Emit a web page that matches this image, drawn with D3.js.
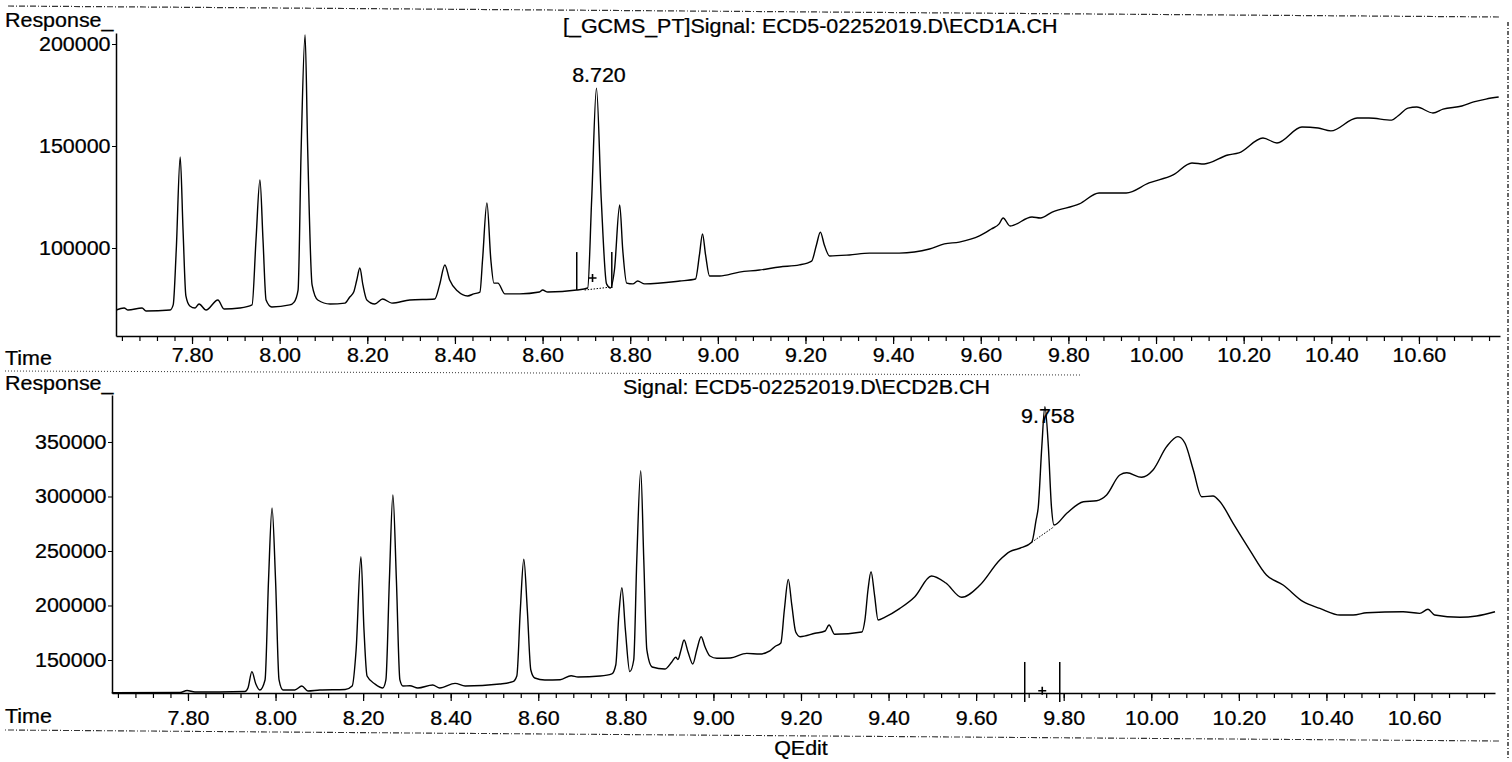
<!DOCTYPE html>
<html><head><meta charset="utf-8">
<script src="https://cdn.jsdelivr.net/npm/d3@7"></script>
<style>
html,body{margin:0;padding:0;background:#fff;}
svg text{font-family:"Liberation Sans",Arial,sans-serif;fill:#000;stroke:#000;stroke-width:0.25px;}
</style></head><body>
<svg id="chart" width="1512" height="762"></svg>
<script>
// ---------- DATA ----------
const xTickLabels = ["7.80","8.00","8.20","8.40","8.60","8.80","9.00","9.20","9.40","9.60","9.80","10.00","10.20","10.40","10.60"];
const topYTicks = [100000, 150000, 200000];
const bottomYTicks = [150000, 200000, 250000, 300000, 350000];
const timeDomain = [7.6265, 10.785];
const topDomain = [56860, 205400];
const bottomDomain = [119730, 393100];

const topTitle = "[_GCMS_PT]Signal: ECD5-02252019.D\\ECD1A.CH";
const bottomTitle = "Signal: ECD5-02252019.D\\ECD2B.CH";

// ECD1A signal (time, response)
const ecd1aTime = [7.627,7.645,7.654,7.686,7.695,7.750,7.757,7.764,7.773,7.7795,7.786,7.795,7.807,7.816,7.832,7.859,7.873,7.909,7.937,7.946,7.955,7.962,7.969,7.982,8.023,8.033,8.042,8.049,8.058,8.064,8.074,8.087,8.115,8.149,8.160,8.169,8.176,8.183,8.190,8.199,8.217,8.235,8.256,8.297,8.354,8.365,8.377,8.388,8.406,8.429,8.443,8.457,8.463,8.473,8.482,8.489,8.498,8.514,8.548,8.593,8.600,8.612,8.678,8.703,8.712,8.723,8.734,8.746,8.755,8.764,8.776,8.783,8.792,8.806,8.817,8.833,8.913,8.949,8.958,8.965,8.972,8.981,9.004,9.049,9.095,9.141,9.186,9.214,9.225,9.234,9.243,9.255,9.300,9.346,9.414,9.483,9.517,9.551,9.597,9.624,9.642,9.651,9.667,9.717,9.736,9.763,9.825,9.870,9.932,9.984,10.039,10.082,10.110,10.164,10.189,10.244,10.276,10.333,10.370,10.399,10.459,10.486,10.538,10.552,10.575,10.595,10.632,10.655,10.698,10.725,10.753,10.782];
const ecd1aResponse = [69600,70600,69600,70600,69100,69600,72100,99000,144600,108800,76500,71600,70600,72550,69600,74500,70100,70600,72100,103900,133300,103900,74500,71100,72100,73500,79400,148000,204400,148000,81900,74500,72550,73000,76000,78400,84300,90200,81900,74500,72550,75000,73000,74500,75000,81900,91700,84300,78900,76500,77500,78400,94100,122100,94100,82800,82800,77500,77500,78400,79400,78400,79400,80400,123500,178400,123500,82400,80400,89200,121100,99000,82800,82400,83800,82400,83800,84800,96600,106900,96600,86300,86300,88200,89200,90700,91700,93600,101500,107800,101500,96100,96600,97500,97500,99500,102000,102900,105900,109300,111800,114700,110800,115200,114700,117600,121600,127000,127000,131900,135800,141700,141200,145600,146600,153900,151500,159300,158800,157400,163700,163700,162700,164700,168600,169100,166200,168100,169600,171600,173000,174000];

// ECD2B signal (time, response)
const ecd2bTime = [7.626,7.782,7.798,7.816,7.930,7.937,7.946,7.955,7.964,7.976,7.984,7.992,8.000,8.008,8.017,8.044,8.060,8.074,8.101,8.159,8.175,8.184,8.195,8.202,8.209,8.227,8.245,8.252,8.260,8.268,8.276,8.284,8.291,8.307,8.325,8.359,8.375,8.410,8.433,8.512,8.542,8.551,8.559,8.567,8.575,8.583,8.592,8.615,8.650,8.675,8.691,8.741,8.768,8.777,8.784,8.791,8.799,8.809,8.818,8.825,8.834,8.841,8.848,8.860,8.889,8.905,8.914,8.919,8.926,8.933,8.942,8.953,8.962,8.972,8.981,8.992,9.008,9.038,9.076,9.106,9.129,9.140,9.154,9.162,9.171,9.179,9.188,9.198,9.232,9.255,9.264,9.277,9.339,9.346,9.353,9.360,9.368,9.376,9.392,9.426,9.460,9.498,9.531,9.567,9.609,9.654,9.677,9.700,9.727,9.737,9.742,9.750,9.757,9.765,9.772,9.778,9.807,9.845,9.875,9.898,9.928,9.944,9.978,10.004,10.035,10.061,10.077,10.096,10.115,10.141,10.157,10.187,10.225,10.263,10.301,10.347,10.385,10.431,10.461,10.492,10.575,10.613,10.632,10.647,10.705,10.743,10.785];
const ecd2bResponse = [120000,120200,122000,120600,121100,124300,139300,128000,122500,131700,223400,289400,223400,131700,122500,122500,126100,121600,122500,122900,126100,159200,244800,177500,135300,128000,124300,131700,223400,301400,223400,131700,126100,126400,124300,127100,124300,128600,126100,128000,130100,135300,195900,242400,195900,140800,133500,131700,131900,135600,134400,135300,137200,145400,191300,216300,177500,139300,150000,241700,323700,241700,159200,143600,141700,148200,152500,150500,159200,168300,157300,146300,159200,171400,161900,153700,151600,151800,156100,155500,158300,162200,165600,195900,224000,200500,175700,171400,174500,176600,182100,173600,175700,186700,214200,231000,209600,186700,189400,197400,208100,227100,220600,207500,218800,241700,249400,252500,258000,278500,290600,345700,382400,345700,290600,273800,284600,295200,296100,301400,319700,321800,317600,324300,345700,354900,348800,324300,299800,300500,295200,275400,250900,228000,218800,203500,197400,191300,191300,193400,194300,192800,196500,191300,189200,190400,194300];

// annotations
const topPeakLabel = {time: 8.723, response: 178400, text: "8.720"};
const bottomPeakLabel = {time: 9.757, response: 382400, text: "9.758"};
const topMarkerTimes = [8.678, 8.758];
const topMarkerResp = [98000, 79400, 80400];      // top, left foot, right foot
const topPlus = {time: 8.714, response: 85300};
const topBaseline = {times: [8.696, 8.758], resp: [79400, 80900]};
const bottomMarkerTimes = [9.711, 9.791];
const bottomMarkerResp = [148200, 111500];
const bottomPlus = {time: 9.751, response: 121800};
const bottomBaseline = {times: [9.727, 9.778], resp: [258000, 272300]};

// ---------- DRAW ----------
const svg = d3.select("#chart");
const FS = 19.5, SX = 1.1;
function txt(x, y, s, anchor) {
  svg.append("text").attr("transform", `translate(${x},${y}) scale(${SX},1)`)
    .attr("text-anchor", anchor || "start").style("font-size", FS + "px").text(s);
}

// scanned frame (dashed)
const frame = svg.append("g").attr("fill", "none").attr("stroke", "#333").attr("stroke-width", 1.2);
frame.append("line").attr("x1", 8).attr("y1", 6).attr("x2", 1500).attr("y2", 17).attr("stroke-dasharray", "6,2,1,2");
frame.append("line").attr("x1", 5).attr("y1", 371).attr("x2", 1080).attr("y2", 375).attr("stroke-dasharray", "1,2").attr("stroke-width", 1);
frame.append("line").attr("x1", 5).attr("y1", 730).attr("x2", 1500).attr("y2", 741).attr("stroke-dasharray", "1,2,6,2").attr("stroke-width", 1.1);
frame.append("line").attr("x1", 1508).attr("y1", 22).attr("x2", 1508).attr("y2", 760).attr("stroke-dasharray", "4,2,1,2").attr("stroke-width", 1.5);

function panel(p) {
  const x = d3.scaleLinear().domain(timeDomain).range([p.left, p.right]);
  const y = d3.scaleLinear().domain(p.yDomain).range([p.bottom, p.top]);
  const g = svg.append("g");

  const minor = d3.range(191, 270).map(i => +(i * 0.04).toFixed(2));
  g.append("g").attr("transform", `translate(0,${p.bottom})`)
    .call(d3.axisBottom(x).tickValues(minor).tickSize(5).tickFormat("").tickSizeOuter(0))
    .call(a => a.select(".domain").attr("stroke-width", 1.3))
    .call(a => a.selectAll(".tick line").attr("stroke-width", 1.2));
  const major = g.append("g").attr("transform", `translate(0,${p.bottom})`)
    .call(d3.axisBottom(x).tickValues(xTickLabels.map(Number)).tickSize(8).tickPadding(p.xPad)
      .tickFormat((d, i) => xTickLabels[i]).tickSizeOuter(0));
  major.select(".domain").remove();
  major.selectAll("text").style("font-size", FS + "px").attr("transform", `scale(${SX},1)`);
  major.selectAll("line").attr("stroke-width", 1.2);

  const ya = g.append("g").attr("transform", `translate(${p.left},0)`)
    .call(d3.axisLeft(y).tickValues(p.yTicks).tickSize(4).tickPadding(1).tickFormat(d3.format("d")).tickSizeOuter(0));
  ya.select(".domain").attr("stroke-width", 1.5);
  ya.selectAll("text").style("font-size", FS + "px").attr("transform", `scale(${SX},1)`);
  g.selectAll(".tick text").attr("fill", "#000");

  const line = d3.line().x(d => x(d[0])).y(d => y(d[1])).curve(d3.curveMonotoneX);
  g.append("path").datum(p.times.map((t, i) => [t, p.resp[i]]))
    .attr("d", line).attr("fill", "none").attr("stroke", "#000").attr("stroke-width", 1.4).attr("stroke-linejoin", "round");
  return {x, y, g};
}

const topP = panel({left: 116, right: 1500, top: 33, bottom: 336, yDomain: topDomain, yTicks: topYTicks,
  times: ecd1aTime, resp: ecd1aResponse, xPad: 4});
const botP = panel({left: 112, right: 1495, top: 395, bottom: 693, yDomain: bottomDomain, yTicks: bottomYTicks,
  times: ecd2bTime, resp: ecd2bResponse, xPad: 10});

// top annotations
topP.g.append("line").attr("x1", topP.x(topMarkerTimes[0])).attr("x2", topP.x(topMarkerTimes[0]))
  .attr("y1", topP.y(topMarkerResp[0])).attr("y2", topP.y(topMarkerResp[1])).attr("stroke", "#000").attr("stroke-width", 1.5);
topP.g.append("line").attr("x1", topP.x(topMarkerTimes[1])).attr("x2", topP.x(topMarkerTimes[1]))
  .attr("y1", topP.y(topMarkerResp[0])).attr("y2", topP.y(topMarkerResp[2])).attr("stroke", "#000").attr("stroke-width", 1.5);
topP.g.append("line").attr("x1", topP.x(topBaseline.times[0])).attr("x2", topP.x(topBaseline.times[1]))
  .attr("y1", topP.y(topBaseline.resp[0])).attr("y2", topP.y(topBaseline.resp[1]))
  .attr("stroke", "#000").attr("stroke-dasharray", "1.5,1.5").attr("stroke-width", 1);
function plus(sc, pt) {
  const cx = sc.x(pt.time), cy = sc.y(pt.response);
  svg.append("path").attr("d", `M${cx - 4},${cy}H${cx + 4}M${cx},${cy - 4}V${cy + 4}`)
    .attr("stroke", "#000").attr("stroke-width", 1.6);
}
plus(topP, topPlus);

// bottom annotations
bottomMarkerTimes.forEach(t => {
  botP.g.append("line").attr("x1", botP.x(t)).attr("x2", botP.x(t))
    .attr("y1", botP.y(bottomMarkerResp[0])).attr("y2", botP.y(bottomMarkerResp[1]))
    .attr("stroke", "#000").attr("stroke-width", 1.5);
});
botP.g.append("line").attr("x1", botP.x(bottomBaseline.times[0])).attr("x2", botP.x(bottomBaseline.times[1]))
  .attr("y1", botP.y(bottomBaseline.resp[0])).attr("y2", botP.y(bottomBaseline.resp[1]))
  .attr("stroke", "#000").attr("stroke-dasharray", "1.5,1.5").attr("stroke-width", 1);
plus(botP, bottomPlus);

// texts
txt(5, 27, "Response_");
txt(5, 365, "Time");
txt(563, 33, topTitle);
txt(topP.x(topPeakLabel.time) + 2.5, topP.y(topPeakLabel.response) - 6, topPeakLabel.text, "middle");
txt(5, 390, "Response_");
txt(5, 723, "Time");
txt(623, 394, bottomTitle);
txt(botP.x(bottomPeakLabel.time) + 3, botP.y(bottomPeakLabel.response) + 16, bottomPeakLabel.text, "middle");
txt(801, 755, "QEdit", "middle");
</script>
</body></html>
